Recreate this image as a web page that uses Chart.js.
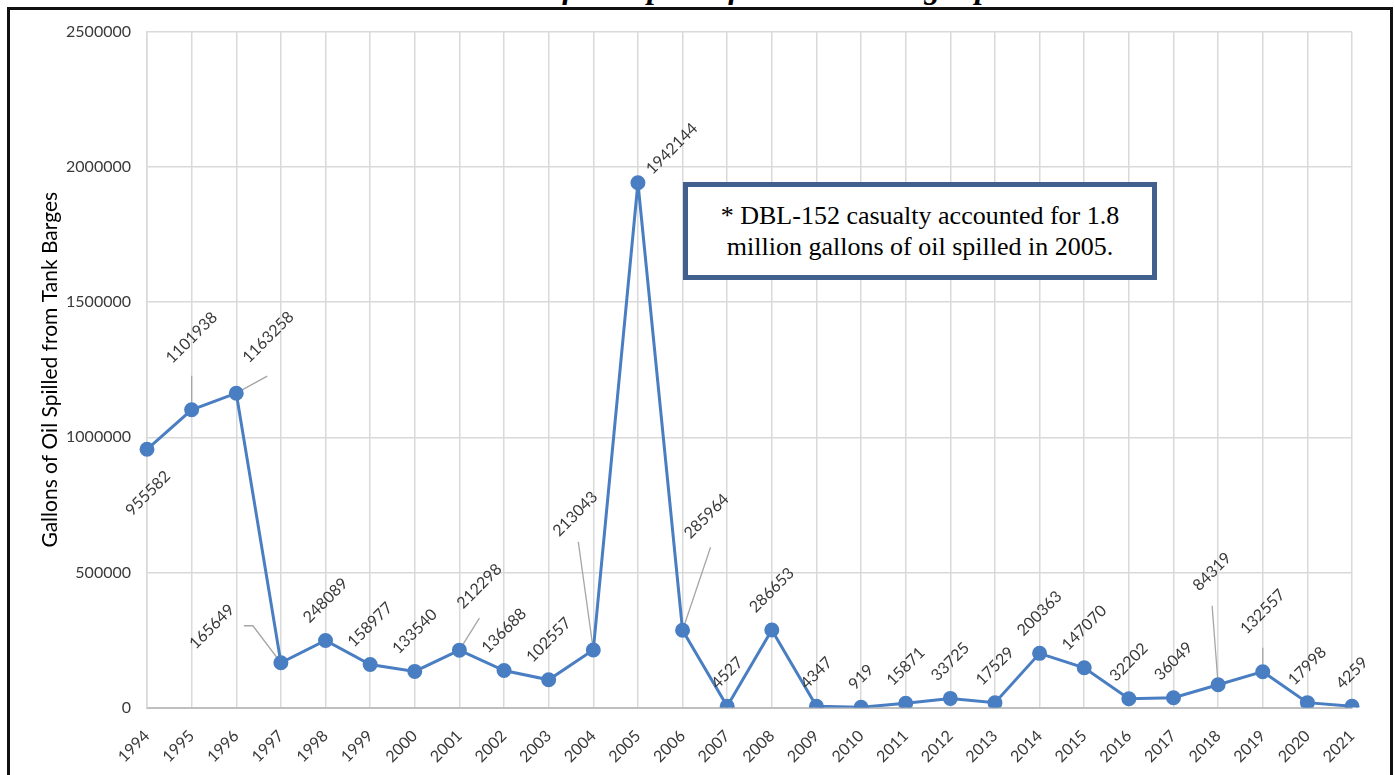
<!DOCTYPE html>
<html>
<head>
<meta charset="utf-8">
<script src="https://cdn.jsdelivr.net/npm/chart.js@4.4.1/dist/chart.umd.min.js"></script>
<style>
  html, body { margin: 0; padding: 0; background: #fff; overflow: hidden; }
  #wrap { position: relative; width: 1395px; height: 775px; overflow: hidden; }
  #frame {
    position: absolute; left: 7px; top: 7px; width: 1386px; height: 820px;
    box-sizing: border-box; border: 3px solid #111;
  }
  #title {
    position: absolute; left: 435px; top: -29px; white-space: nowrap;
    font: italic bold 32px "Liberation Serif", "Times New Roman", serif;
    line-height: 32px; color: #000;
  }
  #chart { position: absolute; left: 0; top: 0; }
  #note {
    position: absolute; left: 683px; top: 182px; width: 474px; height: 98px;
    box-sizing: border-box; border: 5px solid #41608E; background: #fff;
    display: flex; flex-direction: column; justify-content: center; align-items: center;
    font: 26px "Liberation Serif", "Times New Roman", serif; line-height: 31px; color: #000;
  }
</style>
</head>
<body>
<div id="wrap">
  <div id="frame"></div>
  <div id="title">Gallons of Oil Spilled from Tank Barges per Year</div>
  <canvas id="chart" width="1395" height="775"></canvas>
  <div id="note"><div>* DBL-152 casualty accounted for 1.8</div><div>million gallons of oil spilled in 2005.</div></div>
</div>
<script>
// Yearly volume of oil spilled from tank barges (gallons)
const years = ['1994','1995','1996','1997','1998','1999','2000','2001','2002','2003',
               '2004','2005','2006','2007','2008','2009','2010','2011','2012','2013',
               '2014','2015','2016','2017','2018','2019','2020','2021'];
const gallonsSpilled = [955582, 1101938, 1163258, 165649, 248089, 158977, 133540, 212298, 136688, 102557,
                        213043, 1942144, 285964, 4527, 286653, 4347, 919, 15871, 33725, 17529,
                        200363, 147070, 32202, 36049, 84319, 132557, 17998, 4259];
const yTicks = [0, 500000, 1000000, 1500000, 2000000, 2500000];

// Labels that were moved off their default spot: centre offset from the point,
// plus an optional leader line path (relative to the point).
const labelPlacement = {
  '1994': { dx: 1,   dy: 44 },
  '1995': { dx: 0,   dy: -72, leader: [[0, -34]] },
  '1996': { dx: 32,  dy: -56, leader: [[31, -17]] },
  '1997': { dx: -69, dy: -36, leader: [[-28, -37], [-37, -37]] },
  '2001': { dx: 20,  dy: -64, leader: [[20, -32]] },
  '2004': { dx: -18, dy: -136, leader: [[-15, -108]] },
  '2005': { dx: 34,  dy: -34 },
  '2006': { dx: 24,  dy: -114, leader: [[28, -83]] },
  '2018': { dx: -6,  dy: -113, leader: [[-6, -79]] },
  '2019': { dx: 0,   dy: -60, leader: [[0, -24]] }
};

const LABEL_FONT = '16px Lato, "Noto Sans", sans-serif';
const TEXT_COLOR = '#3A3A3A';
const LINE_BLUE = '#4A7EC2';

const dataLabels = {
  id: 'dataLabels',
  beforeDatasetsDraw(chart) {
    const ctx = chart.ctx;
    const meta = chart.getDatasetMeta(0);
    ctx.save();
    ctx.strokeStyle = '#A6A6A6';
    ctx.lineWidth = 1.3;
    meta.data.forEach((pt, i) => {
      const p = labelPlacement[years[i]];
      if (!p || !p.leader) return;
      ctx.beginPath();
      ctx.moveTo(pt.x, pt.y);
      p.leader.forEach(([lx, ly]) => ctx.lineTo(pt.x + lx, pt.y + ly));
      ctx.stroke();
    });
    ctx.restore();
  },
  afterDatasetsDraw(chart) {
    const ctx = chart.ctx;
    const meta = chart.getDatasetMeta(0);
    ctx.save();
    ctx.font = LABEL_FONT;
    ctx.fillStyle = TEXT_COLOR;
    ctx.textAlign = 'center';
    ctx.textBaseline = 'middle';
    meta.data.forEach((pt, i) => {
      const text = String(gallonsSpilled[i]);
      const p = labelPlacement[years[i]];
      let cx, cy;
      if (p) {
        cx = pt.x + p.dx; cy = pt.y + p.dy;
      } else {
        const w = ctx.measureText(text).width;
        cx = pt.x;
        cy = pt.y - (16 + (w + 12) * Math.SQRT1_2 / 2);
      }
      ctx.save();
      ctx.translate(cx, cy);
      ctx.rotate(-Math.PI / 4);
      ctx.fillText(text, 0, 0);
      ctx.restore();
    });
    ctx.restore();
  }
};

new Chart(document.getElementById('chart'), {
  type: 'line',
  data: {
    labels: years,
    datasets: [{
      data: gallonsSpilled,
      borderColor: LINE_BLUE,
      backgroundColor: LINE_BLUE,
      borderWidth: 3,
      pointRadius: 6,
      pointBackgroundColor: LINE_BLUE,
      pointBorderColor: LINE_BLUE,
      tension: 0,
      fill: false
    }]
  },
  options: {
    responsive: false,
    devicePixelRatio: 1,
    animation: false,
    layout: { padding: { left: 38, right: 43, top: 32, bottom: 0 } },
    plugins: { legend: { display: false }, tooltip: { enabled: false }, title: { display: false } },
    scales: {
      x: {
        offset: false,
        grid: { color: '#D9D9D9', lineWidth: 1.5, drawTicks: false },
        border: { color: '#BFBFBF', width: 2 },
        ticks: {
          color: TEXT_COLOR, font: { family: 'Lato', size: 16 },
          maxRotation: 45, minRotation: 45, padding: 19, autoSkip: false
        },
        afterFit(scale) { scale.height = 67.5; }
      },
      y: {
        min: 0, max: 2500000,
        afterBuildTicks(scale) { scale.ticks = yTicks.map(v => ({ value: v })); },
        grid: { color: '#D9D9D9', lineWidth: 1.5, drawTicks: false },
        border: { color: '#D9D9D9', width: 1.5 },
        ticks: {
          color: TEXT_COLOR, font: { family: 'Lato', size: 16 }, padding: 16,
          callback: v => String(v)
        },
        title: {
          display: true, text: 'Gallons of Oil Spilled from Tank Barges',
          color: '#000', font: { family: 'Lato', size: 21 }, padding: { top: 0, bottom: 0 }
        },
        afterFit(scale) { scale.width = 109; }
      }
    }
  },
  plugins: [dataLabels]
});
</script>
</body>
</html>
